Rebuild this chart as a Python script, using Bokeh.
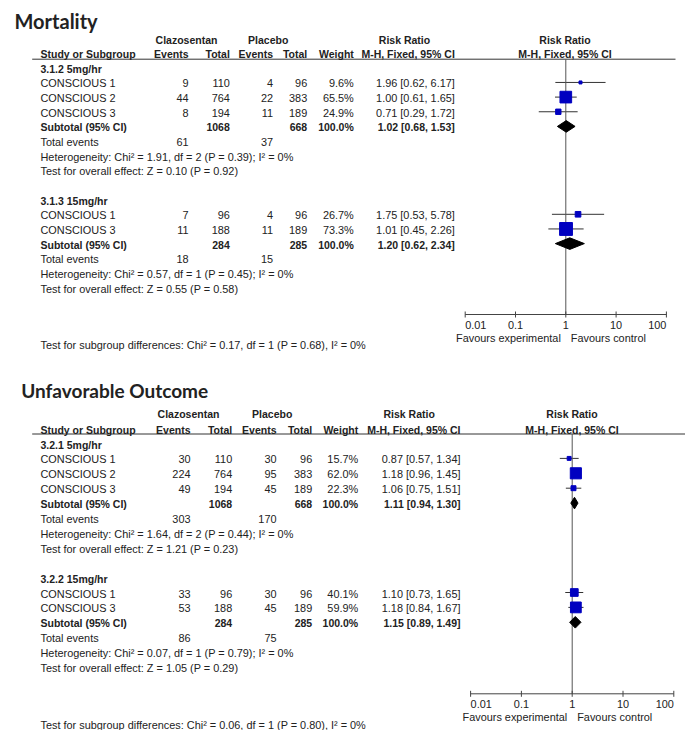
from bokeh.plotting import figure
from bokeh.models import Range1d, LogScale, ColumnDataSource
from bokeh.core.properties import value
from bokeh.embed import file_html
from bokeh.resources import INLINE

# ---------------- data ----------------
titles = ["Mortality", "Unfavorable Outcome"]
group_labels = [["3.1.2 5mg/hr", "3.1.3 15mg/hr"], ["3.2.1 5mg/hr", "3.2.2 15mg/hr"]]
study_5mg = ["CONSCIOUS 1", "CONSCIOUS 2", "CONSCIOUS 3"]
study_15mg = ["CONSCIOUS 1", "CONSCIOUS 3"]
tick_values = [0.01, 0.1, 1, 10, 100]
tick_labels = ["0.01", "0.1", "1", "10", "100"]

# Mortality, 5 mg/hr
mort_5_clz_ev = [9, 44, 8]
mort_5_clz_n = [110, 764, 194]
mort_5_pla_ev = [4, 22, 11]
mort_5_pla_n = [96, 383, 189]
mort_5_weight = [9.6, 65.5, 24.9]
mort_5_rr = [1.96, 1.00, 0.71]
mort_5_lo = [0.62, 0.61, 0.29]
mort_5_hi = [6.17, 1.65, 1.72]
mort_5_sub_n = [1068, 668]
mort_5_sub_rr = [1.02, 0.68, 1.53]
mort_5_tot_ev = [61, 37]
mort_5_het = [1.91, 2, 0.39, 0]
mort_5_z = [0.10, 0.92]

# Mortality, 15 mg/hr
mort_15_clz_ev = [7, 11]
mort_15_clz_n = [96, 188]
mort_15_pla_ev = [4, 11]
mort_15_pla_n = [96, 189]
mort_15_weight = [26.7, 73.3]
mort_15_rr = [1.75, 1.01]
mort_15_lo = [0.53, 0.45]
mort_15_hi = [5.78, 2.26]
mort_15_sub_n = [284, 285]
mort_15_sub_rr = [1.20, 0.62, 2.34]
mort_15_tot_ev = [18, 15]
mort_15_het = [0.57, 1, 0.45, 0]
mort_15_z = [0.55, 0.58]
mort_subgroup_diff = [0.17, 1, 0.68, 0]

# Unfavorable outcome, 5 mg/hr
unf_5_clz_ev = [30, 224, 49]
unf_5_clz_n = [110, 764, 194]
unf_5_pla_ev = [30, 95, 45]
unf_5_pla_n = [96, 383, 189]
unf_5_weight = [15.7, 62.0, 22.3]
unf_5_rr = [0.87, 1.18, 1.06]
unf_5_lo = [0.57, 0.96, 0.75]
unf_5_hi = [1.34, 1.45, 1.51]
unf_5_sub_n = [1068, 668]
unf_5_sub_rr = [1.11, 0.94, 1.30]
unf_5_tot_ev = [303, 170]
unf_5_het = [1.64, 2, 0.44, 0]
unf_5_z = [1.21, 0.23]

# Unfavorable outcome, 15 mg/hr
unf_15_clz_ev = [33, 53]
unf_15_clz_n = [96, 188]
unf_15_pla_ev = [30, 45]
unf_15_pla_n = [96, 189]
unf_15_weight = [40.1, 59.9]
unf_15_rr = [1.10, 1.18]
unf_15_lo = [0.73, 0.84]
unf_15_hi = [1.65, 1.67]
unf_15_sub_n = [284, 285]
unf_15_sub_rr = [1.15, 0.89, 1.49]
unf_15_tot_ev = [86, 75]
unf_15_het = [0.07, 1, 0.79, 0]
unf_15_z = [1.05, 0.29]
unf_subgroup_diff = [0.06, 1, 0.80, 0]

# ---------------- layout (reference pixel coordinates) ----------------
W, H = 685, 730
X0, Y0 = 0, 0

geoms = [
    dict(name="top", title_x=14, title_y=20.5, title_size="20px",
         h1_y=39, h2_y=53.5, line_y=58.7, line_x0=31.7, line_x1=675,
         clz_c=186, pla_c=267.7, rrtab_c=404, rrfor_c=564.5,
         col_study=40, col_clz_ev=188, col_clz_n=229.3, col_pla_ev=272.5,
         col_pla_n=306.7, col_w=353.3, col_rr=454.3,
         row0=68.3, pitch=14.65, one=565.3, dec=50.3,
         axis_y=314, tick_lab_y=324, fav_y=337.5, sg_y=344),
    dict(name="bot", title_x=20.7, title_y=390, title_size="19px",
         h1_y=413.3, h2_y=429, line_y=433.5, line_x0=31.7, line_x1=685,
         clz_c=188, pla_c=271.7, rrtab_c=408.7, rrfor_c=571.5,
         col_study=40, col_clz_ev=190, col_clz_n=231.7, col_pla_ev=276,
         col_pla_n=311.7, col_w=357.7, col_rr=460,
         row0=444, pitch=14.9, one=571.7, dec=50.8,
         axis_y=693.3, tick_lab_y=703, fav_y=716.7, sg_y=724),
]

panels = [
    dict(groups=[
        dict(studies=study_5mg, clz_ev=mort_5_clz_ev, clz_n=mort_5_clz_n, pla_ev=mort_5_pla_ev,
             pla_n=mort_5_pla_n, w=mort_5_weight, rr=mort_5_rr, lo=mort_5_lo, hi=mort_5_hi,
             sub_n=mort_5_sub_n, sub_rr=mort_5_sub_rr, tot=mort_5_tot_ev, het=mort_5_het, z=mort_5_z),
        dict(studies=study_15mg, clz_ev=mort_15_clz_ev, clz_n=mort_15_clz_n, pla_ev=mort_15_pla_ev,
             pla_n=mort_15_pla_n, w=mort_15_weight, rr=mort_15_rr, lo=mort_15_lo, hi=mort_15_hi,
             sub_n=mort_15_sub_n, sub_rr=mort_15_sub_rr, tot=mort_15_tot_ev, het=mort_15_het, z=mort_15_z),
    ], sg=mort_subgroup_diff),
    dict(groups=[
        dict(studies=study_5mg, clz_ev=unf_5_clz_ev, clz_n=unf_5_clz_n, pla_ev=unf_5_pla_ev,
             pla_n=unf_5_pla_n, w=unf_5_weight, rr=unf_5_rr, lo=unf_5_lo, hi=unf_5_hi,
             sub_n=unf_5_sub_n, sub_rr=unf_5_sub_rr, tot=unf_5_tot_ev, het=unf_5_het, z=unf_5_z),
        dict(studies=study_15mg, clz_ev=unf_15_clz_ev, clz_n=unf_15_clz_n, pla_ev=unf_15_pla_ev,
             pla_n=unf_15_pla_n, w=unf_15_weight, rr=unf_15_rr, lo=unf_15_lo, hi=unf_15_hi,
             sub_n=unf_15_sub_n, sub_rr=unf_15_sub_rr, tot=unf_15_tot_ev, het=unf_15_het, z=unf_15_z),
    ], sg=unf_subgroup_diff),
]

TXT = "#222222"
BLUE = "#0000c0"
FONT = "Liberation Sans"
REG = "10.9px"
BOLD = "10.5px"

p = figure(width=W, height=H, x_range=Range1d(X0, X0 + W), y_range=Range1d(Y0 + H, Y0),
           output_backend="svg", toolbar_location=None, min_border=0,
           x_axis_location=None, y_axis_location=None)
p.grid.visible = False
p.outline_line_color = None
p.background_fill_color = "white"
p.border_fill_color = "white"

texts = {}


def add_text(x, y, s, align="left", bold=False, size=None, font=FONT, rng="default", xoff=0):
    if size is None:
        size = BOLD if bold else REG
    key = (align, bold, size, font, rng, xoff)
    d = texts.setdefault(key, {"x": [], "y": [], "text": []})
    d["x"].append(x)
    d["y"].append(y)
    d["text"].append(s)


segs = {}


def add_seg(x0, y0, x1, y1, rng="default", color="#444444", width=1):
    key = (rng, color, width)
    d = segs.setdefault(key, {"x0": [], "y0": [], "x1": [], "y1": []})
    d["x0"].append(x0)
    d["y0"].append(y0)
    d["x1"].append(x1)
    d["y1"].append(y1)


extra_ranges = {}
extra_scales = {}

for pi, (g, panel) in enumerate(zip(geoms, panels)):
    rng = "rr_" + g["name"]
    start = 10 ** ((X0 - g["one"]) / g["dec"])
    end = 10 ** ((X0 + W - g["one"]) / g["dec"])
    extra_ranges[rng] = Range1d(start, end)
    extra_scales[rng] = LogScale()

    add_text(g["title_x"], g["title_y"], titles[pi], bold=True, size=g["title_size"], font="Lato")

    # headers
    add_text(g["clz_c"], g["h1_y"], "Clazosentan", align="center", bold=True)
    add_text(g["pla_c"], g["h1_y"], "Placebo", align="center", bold=True)
    add_text(g["rrtab_c"], g["h1_y"], "Risk Ratio", align="center", bold=True)
    add_text(g["rrfor_c"], g["h1_y"], "Risk Ratio", align="center", bold=True)
    add_text(g["col_study"], g["h2_y"], "Study or Subgroup", bold=True)
    add_text(g["col_clz_ev"], g["h2_y"], "Events", align="right", bold=True)
    add_text(g["col_clz_n"], g["h2_y"], "Total", align="right", bold=True)
    add_text(g["col_pla_ev"], g["h2_y"], "Events", align="right", bold=True)
    add_text(g["col_pla_n"], g["h2_y"], "Total", align="right", bold=True)
    add_text(g["col_w"], g["h2_y"], "Weight", align="right", bold=True)
    add_text(g["col_rr"], g["h2_y"], "M-H, Fixed, 95% CI", align="right", bold=True)
    add_text(g["rrfor_c"], g["h2_y"], "M-H, Fixed, 95% CI", align="center", bold=True)
    add_seg(g["line_x0"], g["line_y"], g["line_x1"], g["line_y"], color="#333333")

    def ry(i):
        return g["row0"] + i * g["pitch"]

    i = 0
    sq = {"x": [], "y": [], "size": []}
    dia = {"xs": [], "ys": []}
    for gi, grp in enumerate(panel["groups"]):
        add_text(g["col_study"], ry(i), group_labels[pi][gi], bold=True)
        i += 1
        for k, s in enumerate(grp["studies"]):
            y = ry(i)
            add_text(g["col_study"], y, s)
            add_text(g["col_clz_ev"], y, str(grp["clz_ev"][k]), align="right")
            add_text(g["col_clz_n"], y, str(grp["clz_n"][k]), align="right")
            add_text(g["col_pla_ev"], y, str(grp["pla_ev"][k]), align="right")
            add_text(g["col_pla_n"], y, str(grp["pla_n"][k]), align="right")
            add_text(g["col_w"], y, f"{grp['w'][k]:.1f}%", align="right")
            add_text(g["col_rr"], y, f"{grp['rr'][k]:.2f} [{grp['lo'][k]:.2f}, {grp['hi'][k]:.2f}]", align="right")
            add_seg(grp["lo"][k], y - 1, grp["hi"][k], y - 1, rng=rng, color="#333333")
            sq["x"].append(grp["rr"][k])
            sq["y"].append(y - 1)
            sq["size"].append(1.5 + 0.155 * grp["w"][k])
            i += 1
        y = ry(i)
        add_text(g["col_study"], y, "Subtotal (95% CI)", bold=True)
        add_text(g["col_clz_n"], y, str(grp["sub_n"][0]), align="right", bold=True)
        add_text(g["col_pla_n"], y, str(grp["sub_n"][1]), align="right", bold=True)
        add_text(g["col_w"], y, f"{sum(grp['w']):.1f}%", align="right", bold=True)
        est, lo, hi = grp["sub_rr"]
        add_text(g["col_rr"], y, f"{est:.2f} [{lo:.2f}, {hi:.2f}]", align="right", bold=True)
        h = 5.8
        dia["xs"].append([lo, est, hi, est])
        dia["ys"].append([y - 1, y - 1 - h, y - 1, y - 1 + h])
        i += 1
        y = ry(i)
        add_text(g["col_study"], y, "Total events")
        add_text(g["col_clz_ev"], y, str(grp["tot"][0]), align="right")
        add_text(g["col_pla_ev"], y, str(grp["tot"][1]), align="right")
        i += 1
        chi, df, pv, i2 = grp["het"]
        add_text(g["col_study"], ry(i), f"Heterogeneity: Chi\u00b2 = {chi:.2f}, df = {df} (P = {pv:.2f}); I\u00b2 = {i2}%")
        i += 1
        z, pz = grp["z"]
        add_text(g["col_study"], ry(i), f"Test for overall effect: Z = {z:.2f} (P = {pz:.2f})")
        i += 2

    chi, df, pv, i2 = panel["sg"]
    add_text(g["col_study"], g["sg_y"],
             f"Test for subgroup differences: Chi\u00b2 = {chi:.2f}, df = {df} (P = {pv:.2f}), I\u00b2 = {i2}%")

    # null line and axis
    add_seg(1, g["line_y"], 1, g["axis_y"], rng=rng, color="#555555")
    add_seg(tick_values[0], g["axis_y"], tick_values[-1], g["axis_y"], rng=rng, color="#444444")
    aligns = ["left", "center", "center", "center", "right"]
    for tv, tl, al in zip(tick_values, tick_labels, aligns):
        add_seg(tv, g["axis_y"] - 3, tv, g["axis_y"] + 3, rng=rng, color="#444444")
        add_text(tv, g["tick_lab_y"], tl, align=al, rng=rng)
    add_text(1, g["fav_y"], "Favours experimental", align="right", rng=rng, xoff=-5)
    add_text(1, g["fav_y"], "Favours control", align="left", rng=rng, xoff=5)

    p.patches(xs="xs", ys="ys", source=ColumnDataSource(dia), x_range_name=rng,
              fill_color="black", line_color="black")
    p.scatter(x="x", y="y", size="size", marker="square", source=ColumnDataSource(sq),
              x_range_name=rng, fill_color=BLUE, line_color=BLUE)

p.extra_x_ranges = extra_ranges
p.extra_x_scales = extra_scales

for (rng, color, width), d in segs.items():
    p.segment(x0="x0", y0="y0", x1="x1", y1="y1", source=ColumnDataSource(d),
              x_range_name=rng, line_color=color, line_width=width, level="underlay")

for (align, bold, size, font, rng, xoff), d in texts.items():
    p.text(x="x", y="y", text="text", source=ColumnDataSource(d), x_range_name=rng,
           text_align=align, text_baseline="middle", x_offset=xoff,
           text_font=value(font), text_font_size=value(size),
           text_font_style="bold" if bold else "normal", text_color=TXT)

open("out.html", "w").write(file_html(p, INLINE))
